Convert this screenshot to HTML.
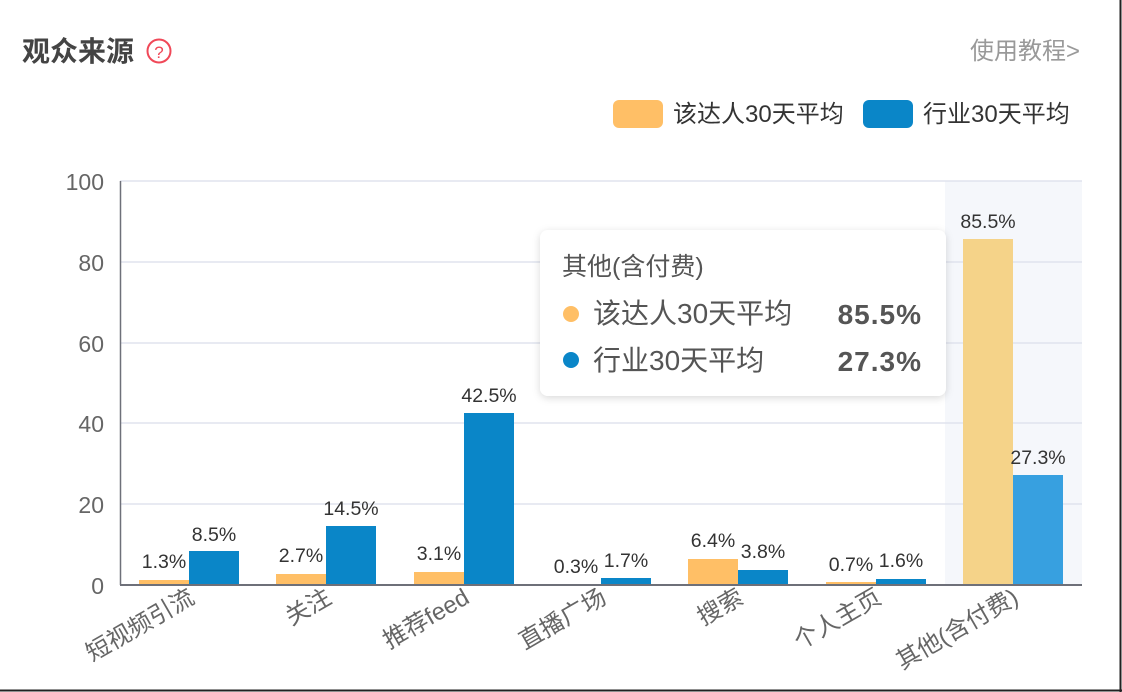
<!DOCTYPE html>
<html><head><meta charset="utf-8"><style>
body{margin:0;background:#fff;}
svg{display:block;font-family:"Liberation Sans","Noto Sans CJK SC",sans-serif;}
</style></head><body>
<svg width="1122" height="692" viewBox="0 0 1122 692">
<rect x="0" y="0" width="1122" height="692" fill="#fff"/>
<line x1="1120.5" y1="0" x2="1120.5" y2="692" stroke="#222" stroke-width="2"/>
<line x1="0" y1="690.5" x2="1122" y2="690.5" stroke="#222" stroke-width="2"/>
<text x="22" y="61" font-size="28" fill="#444" font-weight="bold">观众来源</text>
<circle cx="159" cy="51" r="11.5" fill="none" stroke="#f04858" stroke-width="2"/>
<text x="159" y="58" font-size="17" fill="#f04858" text-anchor="middle">?</text>
<text x="1080" y="59" font-size="24" fill="#999" text-anchor="end">使用教程&gt;</text>
<rect x="613" y="100" width="50" height="28" rx="6" fill="#ffbf66"/>
<text x="673" y="122" font-size="24" fill="#333">该达人30天平均</text>
<rect x="863" y="100" width="50" height="28" rx="6" fill="#0a86c8"/>
<text x="923" y="122" font-size="24" fill="#333">行业30天平均</text>
<rect x="945" y="181" width="137" height="404" fill="#f5f7fb"/>
<g stroke="#e0e3ee" stroke-width="1.5">
<line x1="120" y1="181" x2="1082" y2="181"/><line x1="120" y1="262" x2="1082" y2="262"/>
<line x1="120" y1="343" x2="1082" y2="343"/><line x1="120" y1="423" x2="1082" y2="423"/>
<line x1="120" y1="504" x2="1082" y2="504"/></g>
<line x1="120.5" y1="181" x2="120.5" y2="585" stroke="#6e7079" stroke-width="1.5"/>
<g font-size="23" fill="#666" text-anchor="end">
<text x="104" y="190">100</text><text x="104" y="271">80</text><text x="104" y="352">60</text>
<text x="104" y="432">40</text><text x="104" y="513">20</text><text x="104" y="594">0</text></g>
<g fill="#ffbf66">
<rect x="139" y="580" width="50" height="5"/><rect x="276" y="574" width="50" height="11"/>
<rect x="414" y="572" width="50" height="13"/><rect x="551" y="584" width="50" height="1"/>
<rect x="688" y="559" width="50" height="26"/><rect x="826" y="582" width="50" height="3"/></g>
<rect x="963" y="239" width="50" height="346" fill="#f5d389"/>
<g fill="#0a86c8">
<rect x="189" y="551" width="50" height="34"/><rect x="326" y="526" width="50" height="59"/>
<rect x="464" y="413" width="50" height="172"/><rect x="601" y="578" width="50" height="7"/>
<rect x="738" y="570" width="50" height="15"/><rect x="876" y="579" width="50" height="6"/></g>
<rect x="1013" y="475" width="50" height="110" fill="#37a0e0"/>
<line x1="120" y1="585" x2="1082" y2="585" stroke="#6e7079" stroke-width="2"/>
<g font-size="19.5" fill="#333" text-anchor="middle">
<text x="164" y="568">1.3%</text><text x="214" y="541">8.5%</text>
<text x="301" y="562">2.7%</text><text x="351" y="515">14.5%</text>
<text x="439" y="560">3.1%</text><text x="489" y="402">42.5%</text>
<text x="576" y="573">0.3%</text><text x="626" y="567">1.7%</text>
<text x="713" y="547">6.4%</text><text x="763" y="558">3.8%</text>
<text x="851" y="571">0.7%</text><text x="901" y="567">1.6%</text>
<text x="988" y="228">85.5%</text><text x="1038" y="464">27.3%</text></g>
<g font-size="24" fill="#666" text-anchor="end">
<text transform="translate(196,602) rotate(-30)">短视频引流</text>
<text transform="translate(333,602) rotate(-30)">关注</text>
<text transform="translate(471,602) rotate(-30)">推荐feed</text>
<text transform="translate(608,602) rotate(-30)">直播广场</text>
<text transform="translate(745,602) rotate(-30)">搜索</text>
<text transform="translate(883,602) rotate(-30)">个人主页</text>
<text transform="translate(1020,602) rotate(-30)">其他(含付费)</text></g>
<defs><filter id="sh" x="-10%" y="-10%" width="120%" height="130%"><feDropShadow dx="0" dy="2" stdDeviation="4" flood-color="#000" flood-opacity="0.15"/></filter></defs>
<rect x="540" y="230" width="406" height="166" rx="8" fill="#fff" filter="url(#sh)"/>
<text x="562" y="275" font-size="25" fill="#555">其他(含付费)</text>
<circle cx="571" cy="314" r="8" fill="#ffbf66"/>
<text x="593" y="323" font-size="28" fill="#555">该达人30天平均</text>
<text x="922" y="324" font-size="28" fill="#555" font-weight="bold" text-anchor="end" letter-spacing="1">85.5%</text>
<circle cx="571" cy="360" r="8" fill="#0a86c8"/>
<text x="593" y="370" font-size="28" fill="#555">行业30天平均</text>
<text x="922" y="371" font-size="28" fill="#555" font-weight="bold" text-anchor="end" letter-spacing="1">27.3%</text>
</svg>
</body></html>
